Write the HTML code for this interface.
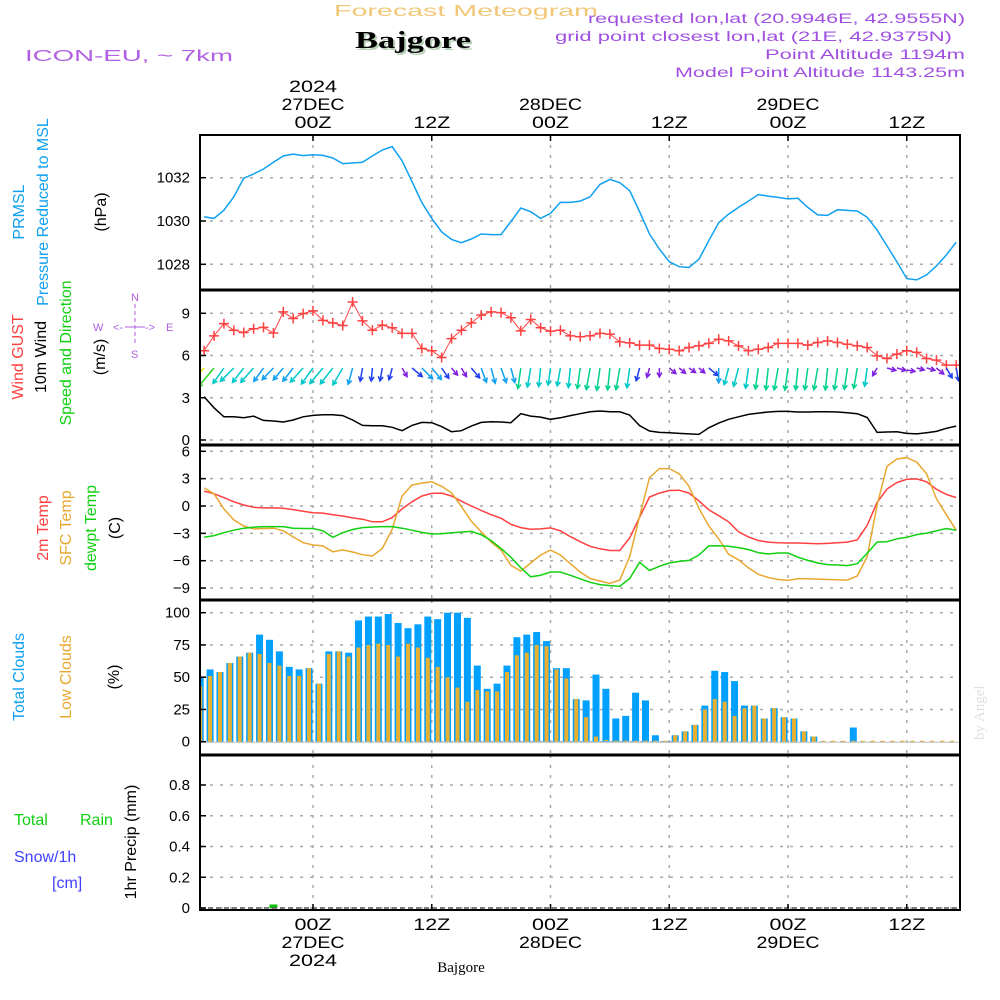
<!DOCTYPE html>
<html><head><meta charset="utf-8"><style>
html,body{margin:0;padding:0;background:#fff}
svg{display:block;font-family:"Liberation Sans",sans-serif}
</style></head><body>
<svg id="chart" width="1000" height="1000" viewBox="0 0 1000 1000" xmlns="http://www.w3.org/2000/svg">
<defs><clipPath id="plotclip"><rect x="200" y="135" width="760" height="775"/></clipPath></defs>
<rect x="0" y="0" width="1000" height="1000" fill="#fff"/>
<text x="334" y="16" font-size="16" fill="#f0c878" textLength="264" lengthAdjust="spacingAndGlyphs">Forecast Meteogram</text>
<text x="357" y="50" font-size="24" font-weight="bold" font-family="Liberation Serif,serif" fill="#b8d0b8" textLength="116" lengthAdjust="spacingAndGlyphs">Bajgore</text>
<text x="355" y="48" font-size="24" font-weight="bold" font-family="Liberation Serif,serif" fill="#000" textLength="116" lengthAdjust="spacingAndGlyphs">Bajgore</text>
<text x="25" y="61" font-size="16" fill="#b060e0" textLength="208" lengthAdjust="spacingAndGlyphs">ICON-EU, ~ 7km</text>
<g font-size="14" fill="#a050e0" text-anchor="end">
<text x="965" y="23" textLength="377" lengthAdjust="spacingAndGlyphs">requested lon,lat (20.9946E, 42.9555N)</text>
<text x="952" y="41" textLength="397" lengthAdjust="spacingAndGlyphs">grid point closest lon,lat (21E, 42.9375N)</text>
<text x="965" y="59" textLength="200" lengthAdjust="spacingAndGlyphs">Point Altitude 1194m</text>
<text x="965" y="77" textLength="290" lengthAdjust="spacingAndGlyphs">Model Point Altitude 1143.25m</text>
</g>
<text transform="translate(984,740) rotate(-90)" font-size="15" font-family="Liberation Serif,serif" fill="#e0e0e0">by Angel</text>
<g id="grid"></g>
<g id="marks" clip-path="url(#plotclip)"></g>
<g id="frame"></g>
<g id="labels"></g>
<g font-size="16">
<text transform="translate(24,212) rotate(-90)" text-anchor="middle" fill="#10a0f0">PRMSL</text>
<text transform="translate(48,212) rotate(-90)" text-anchor="middle" fill="#10a0f0">Pressure Reduced to MSL</text>
<text transform="translate(106,212) rotate(-90)" text-anchor="middle" fill="#000">(hPa)</text>
<text transform="translate(23,357) rotate(-90)" text-anchor="middle" fill="#ff4040">Wind GUST</text>
<text transform="translate(46,357) rotate(-90)" text-anchor="middle" fill="#000">10m Wind</text>
<text transform="translate(71,353) rotate(-90)" text-anchor="middle" fill="#10d010">Speed and Direction</text>
<text transform="translate(105,357) rotate(-90)" text-anchor="middle" fill="#000">(m/s)</text>
<text transform="translate(48,528) rotate(-90)" text-anchor="middle" fill="#ff4040">2m Temp</text>
<text transform="translate(71,528) rotate(-90)" text-anchor="middle" fill="#e8a830">SFC Temp</text>
<text transform="translate(96,528) rotate(-90)" text-anchor="middle" fill="#10d010">dewpt Temp</text>
<text transform="translate(120,528) rotate(-90)" text-anchor="middle" fill="#000">(C)</text>
<text transform="translate(24,677) rotate(-90)" text-anchor="middle" fill="#10a0f0">Total Clouds</text>
<text transform="translate(71,677) rotate(-90)" text-anchor="middle" fill="#e8a830">Low Clouds</text>
<text transform="translate(119,677) rotate(-90)" text-anchor="middle" fill="#000">(%)</text>
<text x="14" y="825" fill="#10d010">Total</text>
<text x="80" y="825" fill="#10d010">Rain</text>
<text x="14" y="862" fill="#4040ff">Snow/1h</text>
<text x="52" y="888" fill="#4040ff">[cm]</text>
<text transform="translate(136,842) rotate(-90)" text-anchor="middle" fill="#000">1hr Precip (mm)</text>
</g>
<g font-size="11" fill="#b060e0" stroke="none">
<text x="131" y="301">N</text><text x="131" y="358">S</text><text x="93" y="331">W</text><text x="166" y="331">E</text>
<text x="113" y="331">&lt;-</text><text x="145" y="331">-&gt;</text>
<line x1="135" y1="304" x2="135" y2="346" stroke="#b060e0" stroke-dasharray="4,3"/>
<line x1="125" y1="327" x2="145" y2="327" stroke="#b060e0"/>
</g>
</svg>
<script>
var times = [];
var pressure = [1030.2,1030.12,1030.5,1031.12,1031.97,1032.17,1032.4,1032.71,1033.0,1033.09,1033.02,1033.06,1033.03,1032.91,1032.65,1032.68,1032.71,1033.0,1033.28,1033.43,1032.78,1031.82,1030.85,1030.12,1029.5,1029.15,1029.0,1029.17,1029.4,1029.37,1029.37,1029.97,1030.6,1030.43,1030.12,1030.35,1030.86,1030.86,1030.92,1031.12,1031.69,1031.92,1031.77,1031.4,1030.43,1029.4,1028.7,1028.12,1027.89,1027.85,1028.23,1029.09,1029.92,1030.32,1030.63,1030.92,1031.22,1031.15,1031.09,1031.02,1031.05,1030.63,1030.28,1030.26,1030.52,1030.49,1030.46,1030.17,1029.58,1028.85,1028.11,1027.34,1027.28,1027.51,1027.92,1028.43,1029.02];
var gust = [6.34,7.4,8.27,7.8,7.64,7.9,8.0,7.6,9.1,8.63,8.98,9.17,8.5,8.32,8.13,9.8,8.46,7.8,8.16,7.97,7.57,7.57,6.5,6.34,5.86,7.2,7.8,8.32,8.87,9.1,9.05,8.68,7.75,8.56,7.97,7.73,7.8,7.4,7.33,7.4,7.57,7.52,6.97,6.9,6.74,6.74,6.5,6.45,6.34,6.57,6.69,6.86,7.16,7.04,6.69,6.34,6.45,6.57,6.86,6.86,6.86,6.74,6.93,7.04,6.93,6.8,6.69,6.57,5.98,5.79,6.1,6.34,6.22,5.79,5.67,5.32,5.32];
var wspd = [3.07,2.29,1.65,1.65,1.58,1.7,1.39,1.35,1.28,1.42,1.65,1.75,1.8,1.8,1.73,1.42,1.04,1.01,1.01,0.9,0.66,1.04,1.25,1.23,0.95,0.59,0.66,0.99,1.25,1.3,1.28,1.23,1.87,1.7,1.63,1.47,1.58,1.73,1.87,2.0,2.06,2.0,2.0,1.77,1.02,0.64,0.54,0.52,0.47,0.43,0.4,0.87,1.2,1.47,1.65,1.82,1.91,1.99,2.03,2.03,1.99,1.99,2.0,2.0,1.99,1.94,1.87,1.6,0.54,0.57,0.59,0.47,0.43,0.52,0.61,0.83,0.99];
var wdir = [45,40,35,45,38,42,36,44,40,38,42,36,40,38,30,15,10,5,10,15,330,310,315,320,325,320,330,320,340,345,340,345,8,10,6,8,10,6,8,10,8,6,10,8,15,15,0,310,310,305,310,310,0,15,15,8,8,6,10,8,6,8,10,6,8,8,10,8,30,285,285,280,285,285,310,330,350];
var t2m = [1.63,1.34,0.92,0.46,0.11,-0.14,-0.21,-0.21,-0.25,-0.39,-0.57,-0.74,-0.78,-0.95,-1.1,-1.31,-1.45,-1.73,-1.73,-1.27,-0.32,0.46,1.1,1.38,1.41,1.1,0.53,0,-0.49,-0.95,-1.34,-2.01,-2.37,-2.54,-2.51,-2.4,-2.72,-3.36,-3.92,-4.42,-4.7,-4.88,-4.88,-3.5,-1.24,0.99,1.41,1.7,1.73,1.41,0.57,-0.42,-1.06,-1.73,-2.83,-3.39,-3.78,-3.96,-4.03,-4.06,-4.06,-4.1,-4.13,-4.1,-4.03,-3.96,-3.71,-2.12,0.39,1.87,2.58,2.93,2.97,2.65,1.84,1.27,0.92];
var tsfc = [1.98,1.34,-0.32,-1.52,-2.19,-2.51,-2.47,-2.44,-2.72,-3.39,-4.03,-4.28,-4.38,-5.02,-4.81,-5.05,-5.34,-5.48,-4.66,-2.54,1.1,2.3,2.51,2.65,2.16,1.45,-0.07,-1.66,-2.83,-3.96,-4.84,-6.5,-7.14,-6.25,-5.37,-4.84,-5.37,-6.33,-7.24,-7.95,-8.23,-8.48,-8.13,-5.55,-1.13,3.11,4.1,4.1,3.53,2.16,-0.25,-2.19,-3.6,-5.3,-5.9,-6.78,-7.49,-7.84,-8.06,-8.16,-7.99,-7.99,-8.02,-8.06,-8.09,-8.13,-7.67,-5.55,0.11,4.35,5.16,5.3,4.81,3.53,0.81,-0.95,-2.65];
var tdew = [-3.43,-3.25,-2.93,-2.65,-2.44,-2.33,-2.26,-2.26,-2.26,-2.44,-2.47,-2.47,-2.72,-3.43,-2.93,-2.58,-2.37,-2.3,-2.26,-2.26,-2.44,-2.65,-2.9,-3.07,-3.04,-2.93,-2.86,-2.79,-3.15,-3.78,-4.66,-5.62,-6.78,-7.77,-7.6,-7.24,-7.24,-7.6,-7.99,-8.37,-8.62,-8.73,-8.8,-7.95,-6.18,-7.07,-6.61,-6.25,-6.08,-5.97,-5.37,-4.38,-4.35,-4.42,-4.56,-4.77,-5.12,-5.27,-5.16,-5.16,-5.62,-5.97,-6.25,-6.43,-6.47,-6.54,-6.33,-5.19,-3.96,-3.92,-3.6,-3.43,-3.14,-2.97,-2.72,-2.47,-2.65];
var totalCloud = [50,56,54,61,66,69,83,79,70,58,56,57,45,70,70,69,94,97,97,99,92,88,91,97,95,100,100,96,59,41,45,59,81,83,85,78,57,57,33,32,52,41,18,20,38,32,5,0.5,5,8,13,28,55,54,47,28,28,18,26,19,18,8,4,0,0,0,11,0,0,0,0,0,0,0,0,0,0];
var lowCloud = [43,51,54,61,66,69,68,61,59,51,51,57,45,68,70,66,73,75,76,75,66,76,73,65,58,50,42,31,40,39,39,54,67,69,75,74,56,49,33,19,4,0.5,0,0,0,0,0,0,5,8,13,25,33,31,20,26,28,18,26,19,18,8,4,0,0,0,0,0,0,0,0,0,0,0,0,0,0];
var rain = [0,0,0,0,0,0,0,0.01,0,0,0,0,0,0,0,0,0,0,0,0,0,0,0,0,0,0,0,0,0,0,0,0,0,0,0,0,0,0,0,0,0,0,0,0,0,0,0,0,0,0,0,0,0,0,0,0,0,0,0,0,0,0,0,0,0,0,0,0,0,0,0,0,0,0,0,0,0];
var pressTicks = [1028,1030,1032];
var windTicks = [0,3,6,9];
var tempTicks = [-9,-6,-3,0,3,6];
var cloudTicks = [0,25,50,75,100];
var precipTicks = [0,0.2,0.4,0.6,0.8];
var dayLabels = ["27DEC","28DEC","29DEC"];
var startHour = -11;

var NS = "http://www.w3.org/2000/svg";
function el(tag, attrs, parent){var e=document.createElementNS(NS,tag);for(var k in attrs)e.setAttribute(k,attrs[k]);if(parent)parent.appendChild(e);return e;}
function xT(t){return 313 + t*9.896;}
function lin(d0,d1,r0,r1){return function(v){return r0+(v-d0)*(r1-r0)/(d1-d0);};}
var yP = lin(1028,1032,264.3,177.7);
var yW = lin(0,9,440,313.3);
var yT = lin(0,6,506,451.3);
var yC = lin(0,100,741.7,612.7);
var yR = lin(0,0.8,908,785);
for(var i=0;i<pressure.length;i++) times.push(startHour+i);

var grid=document.getElementById('grid'), marks=document.getElementById('marks'), frame=document.getElementById('frame'), labels=document.getElementById('labels');
var panels=[[135,290,yP,pressTicks,function(v){return v;}],[290,445,yW,windTicks,function(v){return v;}],[445,600,yT,tempTicks,function(v){return v<0?"\u2212"+(-v):v;}],[600,755,yC,cloudTicks,function(v){return v;}],[755,910,yR,precipTicks,function(v){return v;}]];
var vlines=[0,12,24,36,48,60];
panels.forEach(function(p,pi){
  p[3].forEach(function(v){
    var y=p[2](v);
    var g=el('line',{x1:200,x2:960,y1:y,y2:y,stroke:'#aaa','stroke-width':1.5,'stroke-dasharray':'3,7'},grid);
    
    
    el('line',{x1:200,x2:206,y1:y,y2:y,stroke:'#000','stroke-width':1.5},frame);
    var tx=el('text',{x:190,y:y+5,'font-size':15,'text-anchor':'end',fill:'#000'},labels);
    
    
    tx.textContent=p[4](v);
  });
  vlines.forEach(function(h){
    var x=xT(h);
    var g=el('line',{x1:x,x2:x,y1:p[0],y2:p[1],stroke:'#aaa','stroke-width':1.5,'stroke-dasharray':'3,7'},grid);
    
    
  });
});
var fr=el('rect',{x:200,y:135,width:760,height:775,fill:'none',stroke:'#000','stroke-width':2},frame);


[290,445,600,755].forEach(function(y){
  var l=el('line',{x1:200,x2:960,y1:y,y2:y,stroke:'#000','stroke-width':3},frame);
  
  
});
vlines.forEach(function(h){var x=xT(h);el('line',{x1:x,x2:x,y1:135,y2:141,stroke:'#000','stroke-width':1.5},frame);el('line',{x1:x,x2:x,y1:904,y2:910,stroke:'#000','stroke-width':1.5},frame);});
vlines.forEach(function(h,k){
  var x=xT(h), isDay=(h%24===0);
  var lab=isDay?"00Z":"12Z";
  var a=el('text',{x:x,y:128,'font-size':17,'text-anchor':'middle',fill:'#000',textLength:37,lengthAdjust:'spacingAndGlyphs'},labels);
  
  
  a.textContent=lab;
  var b=el('text',{x:x,y:930,'font-size':17,'text-anchor':'middle',fill:'#000',textLength:37,lengthAdjust:'spacingAndGlyphs'},labels);
  
  
  b.textContent=lab;
  if(isDay){
    var d=dayLabels[h/24];
    var c=el('text',{x:x,y:110,'font-size':17,'text-anchor':'middle',fill:'#000',textLength:63,lengthAdjust:'spacingAndGlyphs'},labels);
    
    
    c.textContent=d;
    var e=el('text',{x:x,y:948,'font-size':17,'text-anchor':'middle',fill:'#000',textLength:63,lengthAdjust:'spacingAndGlyphs'},labels);
    
    
    e.textContent=d;
  }
});
var yr1=el('text',{x:xT(0),y:92,'font-size':17,'text-anchor':'middle',fill:'#000',textLength:48,lengthAdjust:'spacingAndGlyphs'},labels);


yr1.textContent="2024";
var yr2=el('text',{x:xT(0),y:966,'font-size':17,'text-anchor':'middle',fill:'#000',textLength:48,lengthAdjust:'spacingAndGlyphs'},labels);


yr2.textContent="2024";
var loc=el('text',{x:461,y:972,'font-size':15,'text-anchor':'middle','font-family':'Liberation Serif,serif',fill:'#000'},labels);


loc.textContent="Bajgore";

function line(arr,ys,color,name,w){
  var d=arr.map(function(v,i){return (i?'L':'M')+xT(times[i]).toFixed(1)+','+ys(v).toFixed(1);}).join('');
  var p=el('path',{d:d,fill:'none',stroke:color,'stroke-width':w||1.5},marks);
  
  
}
totalCloud.forEach(function(v,i){
  var x=xT(times[i]-0.4);
  var r=el('rect',{x:x-3.5,y:yC(v),width:7,height:Math.max(0,yC(0)-yC(v)),fill:'#00a0ff'},marks);
  
  
  var lv=lowCloud[i];
  var r2=el('rect',{x:x-2,y:yC(lv)-(lv<1?1:0),width:4,height:Math.max(1,yC(0)-yC(lv)),fill:'#e8b030'},marks);
  
  
});
var zl=el('line',{x1:200,x2:960,y1:yC(0)+0.5,y2:yC(0)+0.5,stroke:'#bbb','stroke-width':1},marks);


rain.forEach(function(v,i){
  if(v<=0)return;
  var x=xT(times[i]);
  var r=el('rect',{x:x-4,y:yR(v)-2,width:8,height:Math.max(2,yR(0)-yR(v)+2),fill:'#10c010'},marks);
  
  
});
var pl=el('line',{x1:200,x2:960,y1:908,y2:908,stroke:'#555','stroke-width':1.5,'stroke-dasharray':'5,3'},marks);


line(pressure,yP,'#10a0f0','pressure-line');
line(wspd,yW,'#000','wind-speed-line');
line(gust,yW,'#ff4848','wind-gust-line',1);
gust.forEach(function(v,i){
  var x=xT(times[i]),y=yW(v);
  var m=el('path',{d:'M'+(x-5)+','+y+'H'+(x+5)+'M'+x+','+(y-5)+'V'+(y+5),stroke:'#ff4040','stroke-width':1.5},marks);
  
  
});
line(t2m,yT,'#ff4040','temp-2m-line');
line(tsfc,yT,'#e8a830','temp-sfc-line');
line(tdew,yT,'#10d010','dewpoint-line');
function spdColor(s){if(s<0.8)return '#8020e0';if(s<1.15)return '#2040f0';if(s<1.45)return '#10a0f0';if(s<1.85)return '#00c8c8';if(s<2.2)return '#00d090';if(s<2.6)return '#30d020';return '#e0e000';}
wdir.forEach(function(d,i){
  var s=wspd[i],L=Math.min(28,4+9*s);
  var to=(d+180)*Math.PI/180;
  var dx=Math.sin(to),dy=-Math.cos(to);
  var x0=xT(times[i]),y0=368;
  if(dy<0.2){y0=370;}
  var x1=x0+dx*L,y1=y0+dy*L;
  var ang=Math.atan2(dy,dx),h=5;
  var d1='M'+x0.toFixed(1)+','+y0+'L'+x1.toFixed(1)+','+y1.toFixed(1)+
    'M'+(x1-h*Math.cos(ang-0.5)).toFixed(1)+','+(y1-h*Math.sin(ang-0.5)).toFixed(1)+'L'+x1.toFixed(1)+','+y1.toFixed(1)+
    'L'+(x1-h*Math.cos(ang+0.5)).toFixed(1)+','+(y1-h*Math.sin(ang+0.5)).toFixed(1);
  var a=el('path',{d:d1,fill:'none',stroke:spdColor(s),'stroke-width':1.5},marks);
  
  
});
</script>
</body></html>
